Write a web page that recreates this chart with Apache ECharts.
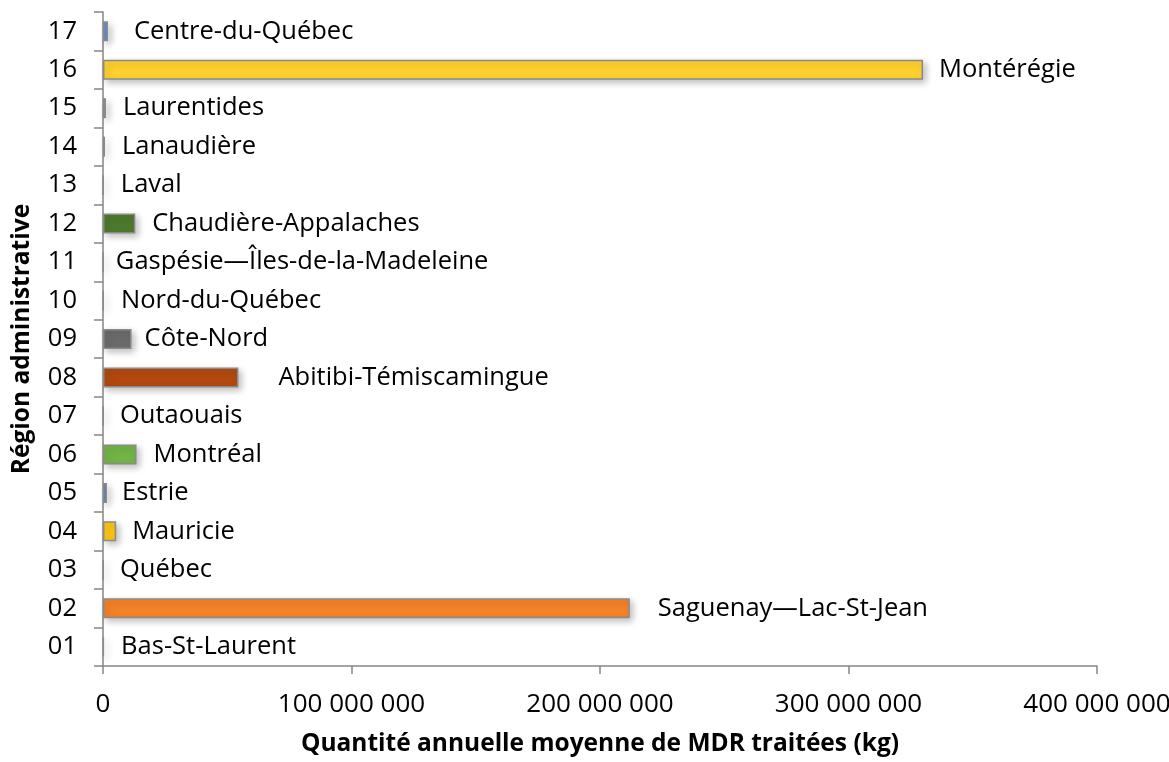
<body style="margin:0">
    <div id='main' style="width:1169px;height:762px;"></div>
</body>

<script src="https://cdn.jsdelivr.net/npm/echarts@6/dist/echarts.min.js"></script>
<script>
// regions 01..17 (bottom to top)
var codes = ['01','02','03','04','05','06','07','08','09','10','11','12','13','14','15','16','17'];
var names = ['Bas-St-Laurent','Saguenay—Lac-St-Jean','Québec','Mauricie','Estrie','Montréal','Outaouais',
  'Abitibi-Témiscamingue','Côte-Nord','Nord-du-Québec','Gaspésie—Îles-de-la-Madeleine','Chaudière-Appalaches',
  'Laval','Lanaudière','Laurentides','Montérégie','Centre-du-Québec'];
var quantities = [300000, 212000000, 200000, 5300000, 1600000, 13500000, 200000, 54500000, 11500000,
  200000, 100000, 13000000, 100000, 800000, 1200000, 330000000, 2000000];

var colors = ['#d9d9d9','#f58228','#d9d9d9','#ffc510','#4a7fd6','#72b545','#d9d9d9','#b2490f','#6b6b6b',
  '#d9d9d9','#d9d9d9','#4c7a2c','#d9d9d9','#b89488','#bdbdbd','#ffd12e','#5b8ee0'];
var labelGap = [17, 28, 16, 16, 15, 17, 16, 40, 13, 17, 12, 17, 17, 17, 17, 16, 26];

var chartDom = document.getElementById('main');
var myChart = echarts.init(chartDom);

var font = '"Open Sans", sans-serif';
var fs = 25.5;

var data = quantities.map(function (v, i) {
  return {
    value: v,
    itemStyle: { color: colors[i] },
    label: { distance: labelGap[i] }
  };
});

var option = {
  animation: false,
  grid: { left: 103, right: 72, top: 12, bottom: 96, containLabel: false, outerBoundsMode: 'none' },
  xAxis: {
    type: 'value',
    min: 0,
    max: 400000000,
    interval: 100000000,
    name: 'Quantité annuelle moyenne de MDR traitées (kg)',
    nameLocation: 'middle',
    nameGap: 66,
    nameTextStyle: { fontFamily: font, fontWeight: 'bold', fontSize: 24.5, color: '#000' },
    axisLine: { show: true, lineStyle: { color: '#868686', width: 1.5 } },
    axisTick: { show: true, length: 8, lineStyle: { color: '#868686', width: 1.5 } },
    axisLabel: {
      fontFamily: font, fontSize: 26, color: '#000', margin: 26,
      formatter: function (v) { return String(v).replace(/\B(?=(\d{3})+(?!\d))/g, ' '); }
    },
    splitLine: { show: false }
  },
  yAxis: {
    type: 'category',
    data: codes,
    name: 'Région administrative',
    nameLocation: 'middle',
    nameGap: 68,
    nameRotate: 90,
    nameTextStyle: { fontFamily: font, fontWeight: 'bold', fontSize: 24.5, color: '#000' },
    axisLine: { lineStyle: { color: '#868686', width: 1.5 } },
    axisTick: { show: true, length: 9, lineStyle: { color: '#868686', width: 1.5 } },
    axisLabel: { fontFamily: font, fontSize: fs, color: '#000', margin: 26 }
  },
  series: [
    {
      type: 'bar',
      barWidth: 20,
      data: data,
      itemStyle: {
        borderColor: '#8a8a8a',
        borderWidth: 1.5,
        shadowBlur: 7,
        shadowColor: 'rgba(0,0,0,0.25)',
        shadowOffsetX: 3,
        shadowOffsetY: 3
      },
      label: {
        show: true,
        position: 'right',
        fontFamily: font,
        fontSize: fs,
        color: '#000',
        formatter: function (p) { return names[p.dataIndex]; }
      }
    }
  ]
};

option && myChart.setOption(option);
</script>
